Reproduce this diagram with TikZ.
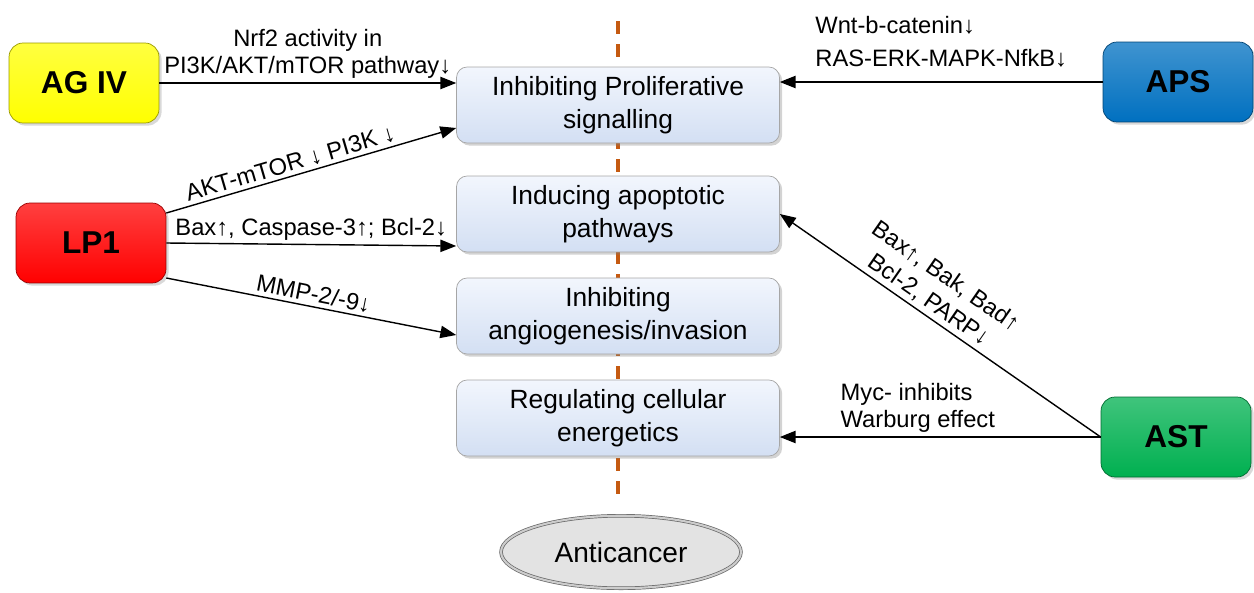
\documentclass[tikz,border=0pt]{standalone}
\usepackage{fontspec}
\setmainfont{Liberation Sans}
\usetikzlibrary{arrows.meta,shapes.geometric,shadows}
\definecolor{agcol}{HTML}{FFFF00}
\definecolor{lpcol}{HTML}{FF0000}
\definecolor{apscol}{HTML}{0070C0}
\definecolor{astcol}{HTML}{00B050}
\definecolor{axcol}{HTML}{C55A11}
\definecolor{hmtop}{HTML}{F2F6FD}
\definecolor{hmbot}{HTML}{D3DFF3}
\begin{document}
\begin{tikzpicture}[x=0.02cm,y=-0.02cm,
	hallmark/.style={rectangle,rounded corners=6pt,draw=gray!70,top color=hmtop,bottom color=hmbot,minimum width=6.46cm,minimum height=1.52cm,align=center,font=\fontsize{15}{19}\selectfont,drop shadow={shadow xshift=1.5pt,shadow yshift=-1.5pt,opacity=.35}},
	herb/.style={rectangle,rounded corners=8pt,draw=#1!60!black,top color=#1!75!white,bottom color=#1,minimum width=3cm,minimum height=1.6cm,font=\fontsize{18}{20}\selectfont\bfseries,drop shadow={shadow xshift=1.5pt,shadow yshift=-1.5pt,opacity=.3}},
	act/.style={-{Triangle[length=9pt,width=7pt]},line width=.8pt},
	lbl/.style={font=\fontsize{13.5}{15.5}\selectfont,inner sep=2pt}]
	\useasboundingbox(0,0)rectangle(1254,592);
	\coordinate(axtop)at(618,21);
	\coordinate(axbot)at(618,497);
	\draw[axcol,line width=2pt,dash pattern=on 7.4pt off 5.7pt](axtop)--(axbot);
	\node[hallmark](box1)at(618,105){Inhibiting Proliferative\\signalling};
	\node[hallmark](box2)at(618,214){Inducing apoptotic\\pathways};
	\node[hallmark](box3)at(618,316){Inhibiting\\angiogenesis/invasion};
	\node[hallmark](box4)at(618,418){Regulating cellular\\energetics};
	\node[ellipse,draw=gray!80!black,double=gray!40,double distance=1.2pt,fill=gray!22,minimum width=4.8cm,minimum height=1.45cm,font=\fontsize{16}{18}\selectfont](anc)at(621,552){Anticancer};
	\node[herb=agcol](agiv)at(84,83){AG IV};
	\node[herb=lpcol](lp1)at(91,243){LP1};
	\node[herb=apscol](aps)at(1178,82){APS};
	\node[herb=astcol](ast)at(1176,437){AST};
	\draw[act](agiv.east)--node[lbl,above,align=center]{Nrf2 activity in\\PI3K/AKT/mTOR pathway↓}(agiv.east-|box1.west);
	\draw[act]([shift={(0,-30)}]lp1.east)--node[lbl,above,sloped,pos=.44]{AKT-mTOR ↓ PI3K ↓}([shift={(0,23)}]box1.west);
	\draw[act](lp1.east)--node[lbl,above,pos=.5]{Bax↑, Caspase-3↑; Bcl-2↓}([shift={(0,32)}]box2.west);
	\draw[act]([shift={(0,35)}]lp1.east)--node[lbl,above,sloped,pos=.5]{MMP-2/-9↓}([shift={(0,19)}]box3.west);
	\draw[act](aps.west)--node[lbl,above=6pt,align=left,font=\fontsize{13.5}{18.7}\selectfont]{Wnt-b-catenin↓\\RAS-ERK-MAPK-NfkB↓}(aps.west-|box1.east);
	\draw[act](ast.west)--node[lbl,above,sloped,pos=.56,align=center,font=\fontsize{13.5}{16.5}\selectfont]{Bax↑, Bak, Bad↑\\Bcl-2, PARP↓}(box2.east);
	\draw[act](ast.west)--node[lbl,above,pos=.57,align=left]{Myc- inhibits\\Warburg effect}(ast.west-|box4.east);
\end{tikzpicture}
\end{document}
